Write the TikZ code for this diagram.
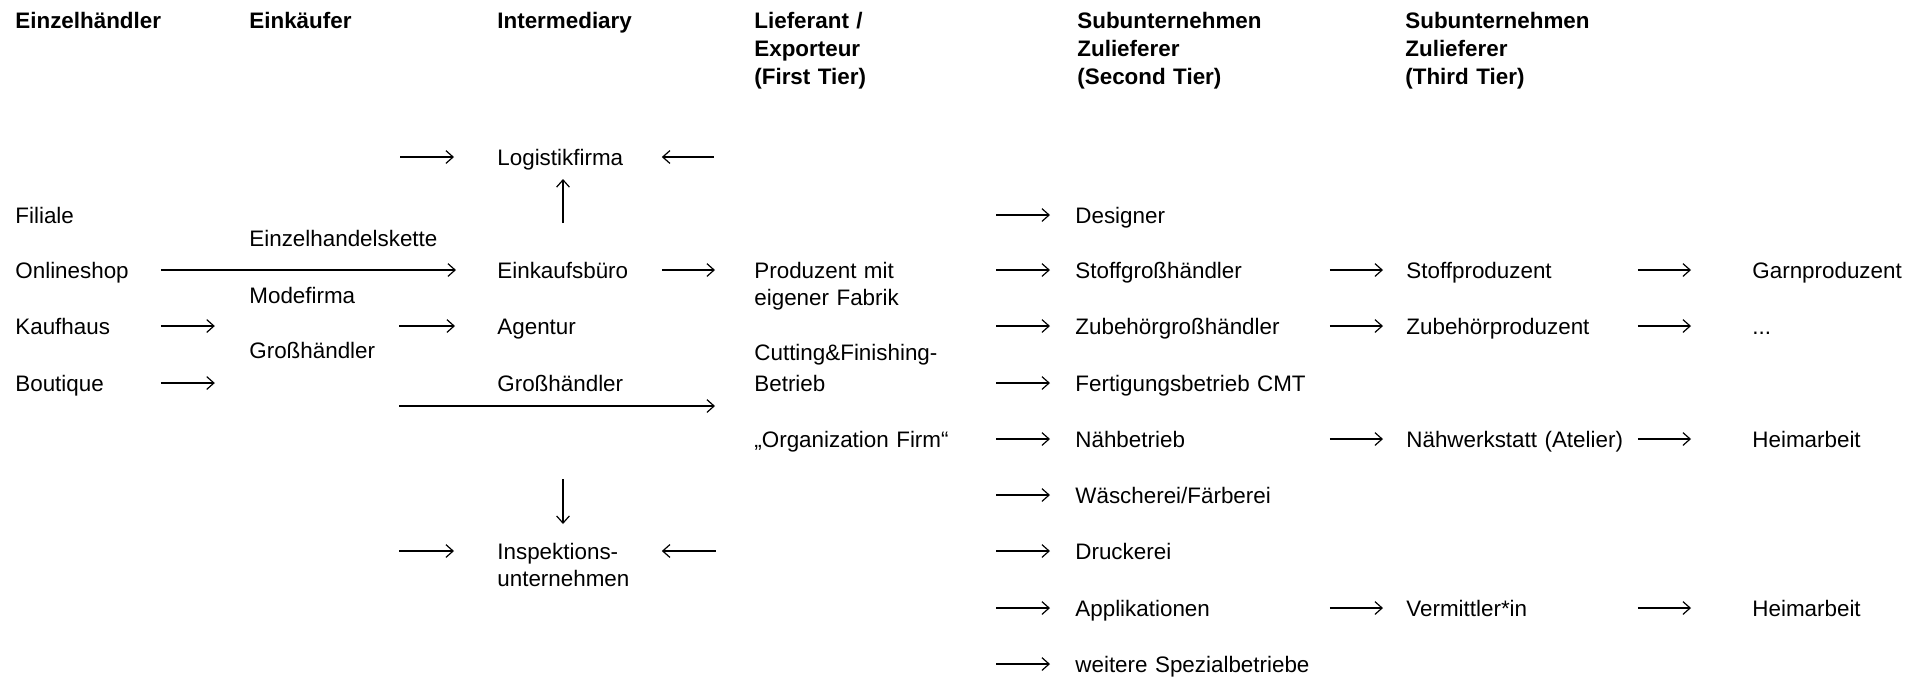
\documentclass[tikz,border=0pt]{standalone}
\usepackage{fontspec}
\setmainfont{Liberation Sans}
\usetikzlibrary{arrows.meta}
\tikzset{lbl/.style={anchor=base west,inner sep=0pt,align=left,font=\fontsize{11.2}{13.5}\selectfont},hdr/.style={lbl,text width=150pt,font=\fontsize{11.2}{14}\selectfont\bfseries},flow/.style={-{Straight Barb[length=3.6pt,width=6.4pt]},line width=0.6pt},c1/.style={lbl,text width=72.5pt},c3/.style={lbl,text width=82pt},c4/.style={lbl,text width=121pt},c5/.style={lbl,text width=127pt},c6/.style={lbl,text width=115.5pt}}

\begin{document}
\begin{tikzpicture}[x=0.5pt,y=-0.5pt]
\useasboundingbox (0,0) rectangle (1917,677);
%headers
\node (h1) at (15,28)[hdr]{Einzelhändler};
\node (h2) at (249,28)[hdr]{Einkäufer};
\node (h3) at (497,28)[hdr]{Intermediary};
\node (h4) at (754,28)[hdr]{Lieferant /\\Exporteur\\(First Tier)};
\node (h5) at (1077,28)[hdr]{Subunternehmen\\Zulieferer\\(Second Tier)};
\node (h6) at (1405,28)[hdr]{Subunternehmen\\Zulieferer\\(Third Tier)};

%retailers
\node (fil) at (15,223)[c1]{Filiale};
\node (onl) at (15,278)[c1]{Onlineshop};
\node (kauf) at (15,334)[c1]{Kaufhaus};
\node (bout) at (15,391)[c1]{Boutique};

%buyers
\node (kette) at (249,246)[lbl]{Einzelhandelskette};
\node (mode) at (249,303)[lbl]{Modefirma};
\node (gross1) at (249,358)[lbl]{Großhändler};

%intermediary
\node (logi) at (497,165)[c3]{Logistikfirma};
\node (einkauf) at (497,278)[c3]{Einkaufsbüro};
\node (agent) at (497,334)[c3]{Agentur};
\node (gross2) at (497,391)[c3]{Großhändler};
\node (insp) at (497,559)[c3]{Inspektions-\\unternehmen};

%first tier
\node (prod) at (754,278)[c4]{Produzent mit\\eigener Fabrik};
\node (cut) at (754,360)[c4]{Cutting\&Finishing-\\[2pt]Betrieb};
\node (org) at (754,447)[c4]{„Organization Firm“};

%second tier
\node (des) at (1075,223)[c5]{Designer};
\node (stoffg) at (1075,278)[c5]{Stoffgroßhändler};
\node (zubg) at (1075,334)[c5]{Zubehörgroßhändler};
\node (fert) at (1075,391)[c5]{Fertigungsbetrieb CMT};
\node (naeh) at (1075,447)[c5]{Nähbetrieb};
\node (wasch) at (1075,503)[c5]{Wäscherei/Färberei};
\node (druck) at (1075,559)[c5]{Druckerei};
\node (appl) at (1075,616)[c5]{Applikationen};
\node (weit) at (1075,672)[c5]{weitere Spezialbetriebe};

%third tier
\node (stoffp) at (1406,278)[c6]{Stoffproduzent};
\node (zubp) at (1406,334)[c6]{Zubehörproduzent};
\node (atel) at (1406,447)[c6]{Nähwerkstatt (Atelier)};
\node (verm) at (1406,616)[c6]{Vermittler*in};

%end
\node (garn) at (1752,278)[lbl]{Garnproduzent};
\node (dots) at (1752,334)[lbl]{...};
\node (heim1) at (1752,447)[lbl]{Heimarbeit};
\node (heim2) at (1752,616)[lbl]{Heimarbeit};

%arrows retailers / buyers
\draw[flow,shorten >=20.5pt] ([yshift=4pt]onl.base east) -- ([yshift=4pt]einkauf.base west);
\draw[flow] ([yshift=4pt]kauf.base east) -- ([xshift=27pt,yshift=4pt]kauf.base east);
\draw[flow] ([yshift=4pt]bout.base east) -- ([xshift=27pt,yshift=4pt]bout.base east);

%arrows intermediary
\draw[flow,shorten >=21.5pt] ([xshift=-48.5pt,yshift=4pt]logi.base west) -- ([yshift=4pt]logi.base west);
\draw[flow] ([xshift=26pt,yshift=4pt]logi.base east) -- ([yshift=4pt]logi.base east);
\draw[flow] ([xshift=33pt,yshift=27.5pt]einkauf.base west) -- ([xshift=33pt,yshift=-7pt]logi.base west);
\draw[flow,shorten >=19.5pt] ([yshift=4pt]einkauf.base east) -- ([yshift=4pt]prod.base west);
\draw[flow,shorten >=21pt] ([xshift=-49pt,yshift=4pt]agent.base west) -- ([yshift=4pt]agent.base west);
\draw[flow] ([xshift=-49pt,yshift=-7.5pt]gross2.base west) -- ([xshift=109pt,yshift=-7.5pt]gross2.base west);
\draw[flow] ([xshift=33pt,yshift=-44pt]gross2.base west) -- ([xshift=33pt,yshift=17.5pt]insp.base west);
\draw[flow,shorten >=21.5pt] ([xshift=-49pt,yshift=4pt]insp.base west) -- ([yshift=4pt]insp.base west);
\draw[flow] ([xshift=27pt,yshift=4pt]insp.base east) -- ([yshift=4pt]insp.base east);

%arrows tiers
\foreach \n in {des,stoffg,zubg,fert,naeh,wasch,druck,appl,weit}
  \draw[flow,shorten >=12.5pt] ([xshift=-39.5pt,yshift=4pt]\n.base west) -- ([yshift=4pt]\n.base west);
\foreach \a/\b in {stoffg/stoffp,zubg/zubp,naeh/atel,appl/verm}
  \draw[flow,shorten >=11.5pt] ([yshift=4pt]\a.base east) -- ([yshift=4pt]\b.base west);
\foreach \a/\b in {stoffp/garn,zubp/dots,atel/heim1,verm/heim2}
  \draw[flow,shorten >=30.5pt] ([yshift=4pt]\a.base east) -- ([yshift=4pt]\b.base west);

\end{tikzpicture}
\end{document}
